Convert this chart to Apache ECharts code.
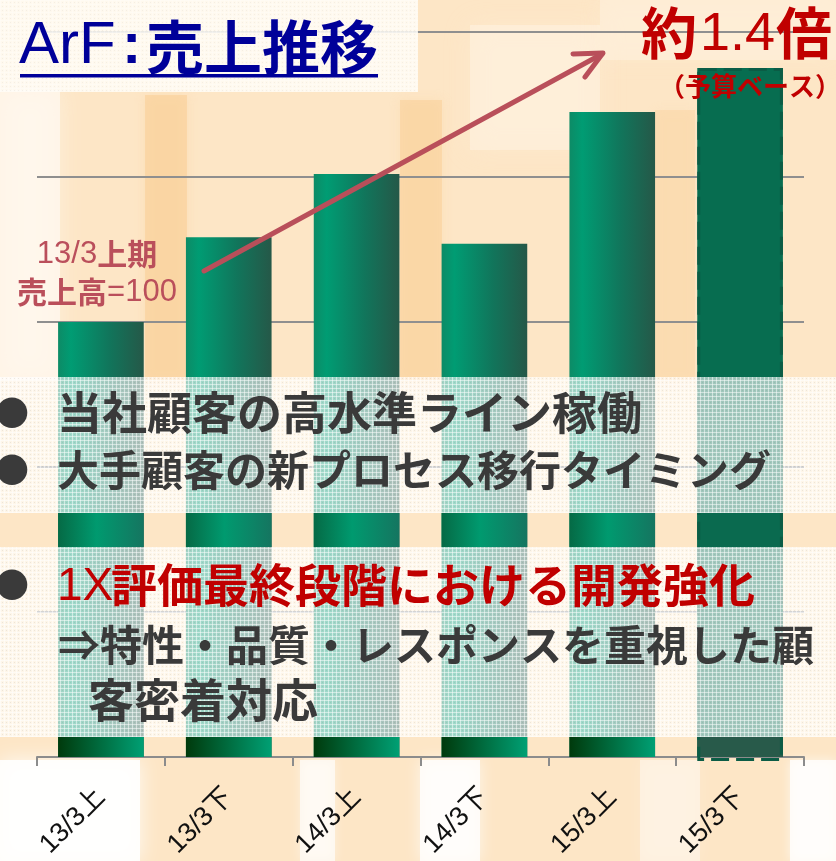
<!DOCTYPE html>
<html><head><meta charset="utf-8">
<script src="https://cdn.jsdelivr.net/npm/echarts@6/dist/echarts.min.js"></script>
<style>html,body{margin:0;padding:0;background:#fff}#c{width:836px;height:861px}</style>
</head><body><div id="c"></div>
<script>
// ---- data ----
const categories = ['13/3上', '13/3下', '14/3上', '14/3下', '15/3上', '15/3下'];
const salesIndex = [100, 119.5, 134, 118, 148.3, 158.4];   // 13/3上期 = 100
const basis = ['実績', '実績', '実績', '実績', '実績', '予算'];
const titleLatin = 'ArF';
const titleJa = '売上推移';
const growthText = ['約', '1.4', '倍'];
const growthNote = '（予算ベース）';
const baseNote = ['13/3', '上期', '売上高', '=100'];
const bullets = [
  '当社顧客の高水準ライン稼働',
  '大手顧客の新プロセス移行タイミング'
];
const bullet3 = ['1X', '評価最終段階における開発強化'];
const bullet3sub = ['⇒特性・品質・レスポンスを重視した顧', '客密着対応'];

// ---- layout / style ----
const CJK = '"Noto Sans CJK JP", sans-serif';
const LAT = '"Liberation Sans", Arial, sans-serif';
const OV1 = [377, 513];  // translucent text panels (y ranges)
const OV2 = [547, 737];

function makePattern() {
  const c = document.createElement('canvas');
  c.width = 4; c.height = 4;
  const g = c.getContext('2d');
  g.fillStyle = 'rgba(255,255,255,0.5)';
  g.fillRect(0, 0, 4, 1);
  g.fillRect(0, 0, 1, 4);
  g.fillStyle = 'rgba(110,110,110,0.12)';
  g.fillRect(2, 2, 1, 1);
  return c;
}
const pattern = makePattern();

const gradTop = () => new echarts.graphic.LinearGradient(0, 0, 1, 0, [
  {offset: 0, color: '#0d8b66'}, {offset: 0.15, color: '#009c73'},
  {offset: 0.6, color: '#11755b'}, {offset: 1, color: '#255848'}]);
const gradMid = () => new echarts.graphic.LinearGradient(0, 0, 1, 0, [
  {offset: 0, color: '#056a45'}, {offset: 0.45, color: '#009a6f'},
  {offset: 1, color: '#157560'}]);
const gradBot = () => new echarts.graphic.LinearGradient(0, 0, 1, 0, [
  {offset: 0, color: '#003a0c'}, {offset: 1, color: '#00a074'}]);

function renderBar(params, api) {
  const i = api.value(0);
  const v = api.value(1);
  const top = api.coord([i, v]);
  const base = api.coord([i, 0]);
  const w = api.size([1, 0])[0] * 0.67;
  const x = top[0] - w / 2;
  const y0 = top[1], y1 = base[1];
  const budget = basis[i] === '予算';
  const kids = [{
    type: 'rect', shape: {x: x, y: y0, width: w, height: y1 - y0},
    style: {fill: budget ? '#076d50' : gradTop()}
  }];
  const segs = [[OV1[1], OV2[0], budget ? '#0a6a4f' : gradMid()],
                [OV2[1], y1, budget ? '#285a4a' : gradBot()]];
  segs.forEach(s => {
    const a = Math.max(s[0], y0), b = s[1];
    if (b > a) kids.push({type: 'rect', shape: {x: x, y: a, width: w, height: b - a}, style: {fill: s[2]}});
  });
  if (budget) {
    kids.push({type: 'rect', shape: {x: x + 1.5, y: y0 + 1.5, width: w - 3, height: y1 - y0 + 1},
      style: {fill: null, stroke: '#0b5c45', lineWidth: 3, lineDash: [18, 7]}});
  }
  return {type: 'group', children: kids};
}

const soft = (x, y, w, h, c, blur) => ({type: 'rect', shape: {x: x, y: y, width: w, height: h},
  style: {fill: c, shadowBlur: blur || 0, shadowColor: c}});
const bg = [
  soft(0, 0, 836, 861, '#fde6c6'),
  soft(0, 90, 60, 290, 'rgba(255,250,242,0.7)', 25),
  soft(470, 25, 130, 125, 'rgba(255,246,232,0.45)', 25),
  soft(600, 0, 236, 60, 'rgba(255,244,228,0.45)', 20),
  soft(145, 95, 42, 285, 'rgba(249,206,148,0.55)', 10),
  soft(400, 100, 42, 280, 'rgba(249,206,148,0.5)', 10),
  soft(655, 110, 40, 270, 'rgba(249,206,148,0.35)', 10),
  soft(0, 760, 140, 101, 'rgba(255,255,255,0.9)', 20),
  soft(300, 760, 35, 101, 'rgba(255,255,255,0.65)', 10),
  soft(420, 760, 60, 101, 'rgba(255,255,255,0.8)', 15),
  soft(640, 760, 60, 101, 'rgba(255,255,255,0.4)', 15),
  soft(790, 760, 46, 101, 'rgba(255,255,255,0.8)', 10)
].map(e => Object.assign(e, {z: -100, silent: true}));

function panel(y0, y1) {
  return [
    {type: 'rect', z: 10, shape: {x: 0, y: y0, width: 836, height: y1 - y0}, style: {fill: 'rgba(255,255,255,0.62)'}},
    {type: 'rect', z: 10, shape: {x: 0, y: y0, width: 836, height: y1 - y0}, style: {fill: {image: pattern, repeat: 'repeat'}}}
  ];
}

const bodyColor = '#3a3a3a';
const txt = (x, y, text, o) => ({type: 'text', z: 12, x: x, y: y,
  style: Object.assign({text: text, textAlign: 'left', textVerticalAlign: 'middle'}, o)});
const noteRich = {
  n: {fontFamily: LAT, fontSize: 31, fill: '#ba4f5b', verticalAlign: 'middle'},
  k: {fontFamily: CJK, fontSize: 30, fontWeight: 'bold', fill: '#ba4f5b', verticalAlign: 'middle'}
};

const graphics = [].concat(bg,
  // title panel
  [{type: 'rect', z: 10, shape: {x: 0, y: 0, width: 418, height: 92}, style: {fill: 'rgba(255,252,246,0.82)'}},
   {type: 'rect', z: 10, shape: {x: 0, y: 0, width: 418, height: 92}, style: {fill: {image: pattern, repeat: 'repeat'}, opacity: 0.6}},
   txt(19, 46, titleLatin, {fontFamily: LAT, fontSize: 60, fill: '#000099'}),
   txt(122, 47, ':', {fontFamily: LAT, fontSize: 58, fontWeight: 'bold', fill: '#000099'}),
   txt(146, 47, titleJa, {fontFamily: CJK, fontSize: 58, fontWeight: 'bold', fill: '#000099'}),
   {type: 'rect', z: 12, shape: {x: 20, y: 74, width: 358, height: 3.5}, style: {fill: '#000099'}}],
  // growth annotation
  [txt(641, 33, growthText[0], {fontFamily: CJK, fontSize: 56, fontWeight: 'bold', fill: '#c00000'}),
   txt(700, 35, growthText[1], {fontFamily: LAT, fontSize: 54, fill: '#c00000'}),
   txt(776, 33, growthText[2], {fontFamily: CJK, fontSize: 56, fontWeight: 'bold', fill: '#c00000'}),
   txt(750, 86, growthNote, {fontFamily: CJK, fontSize: 26, fontWeight: 'bold', fill: '#c00000', textAlign: 'center'})],
  // arrow
  [{type: 'polyline', z: 5, shape: {points: [[204, 271], [602, 54]]}, style: {stroke: '#b94f5a', lineWidth: 5, lineCap: 'round', fill: null}},
   {type: 'polyline', z: 5, shape: {points: [[573, 54], [603, 53], [585, 77]]}, style: {stroke: '#b94f5a', lineWidth: 5, lineCap: 'round', lineJoin: 'round', fill: null}}],
  // base note
  [{type: 'text', z: 12, x: 97, y: 254, style: {text: '{n|' + baseNote[0] + '}{k|' + baseNote[1] + '}', textAlign: 'center', textVerticalAlign: 'middle', rich: noteRich}},
   {type: 'text', z: 12, x: 97, y: 292, style: {text: '{k|' + baseNote[2] + '}{n|' + baseNote[3] + '}', textAlign: 'center', textVerticalAlign: 'middle', rich: noteRich}}],
  panel(OV1[0], OV1[1]), panel(OV2[0], OV2[1]),
  // bullets
  [txt(12, 413, '●', {fontFamily: CJK, fontSize: 34, fill: bodyColor, textAlign: 'center'}),
   txt(57, 413, bullets[0], {fontFamily: CJK, fontSize: 45, fontWeight: 'bold', fill: bodyColor}),
   txt(12, 470, '●', {fontFamily: CJK, fontSize: 34, fill: bodyColor, textAlign: 'center'}),
   txt(57, 470, bullets[1], {fontFamily: CJK, fontSize: 42, fontWeight: 'bold', fill: bodyColor}),
   txt(12, 585, '●', {fontFamily: CJK, fontSize: 34, fill: bodyColor, textAlign: 'center'}),
   txt(57, 587, bullet3[0], {fontFamily: LAT, fontSize: 46, fill: '#c00000'}),
   txt(111, 585, bullet3[1], {fontFamily: CJK, fontSize: 46, fontWeight: 'bold', fill: '#c00000'}),
   txt(58, 645, bullet3sub[0], {fontFamily: CJK, fontSize: 42, fontWeight: 'bold', fill: bodyColor}),
   txt(88, 700, bullet3sub[1], {fontFamily: CJK, fontSize: 46, fontWeight: 'bold', fill: bodyColor})]
);

const chart = echarts.init(document.getElementById('c'), null, {renderer: 'canvas'});
chart.setOption({
  backgroundColor: '#fde6c6',
  animation: false,
  grid: {left: 37, right: 32, top: 32, bottom: 104, containLabel: false},
  xAxis: {
    type: 'category', data: categories, boundaryGap: true,
    axisLine: {lineStyle: {color: '#8c8c8c', width: 2}},
    axisTick: {show: true, length: 9, lineStyle: {color: '#8c8c8c', width: 2}},
    axisLabel: {rotate: 45, fontSize: 27, color: '#111', fontFamily: '"Liberation Sans", "Noto Sans CJK JP", sans-serif', margin: 36}
  },
  yAxis: {
    type: 'value', min: 0, max: 500 / 3, interval: 100 / 3,
    axisLabel: {show: false}, axisLine: {show: false}, axisTick: {show: false},
    splitLine: {show: true, lineStyle: {color: '#8f8f8f', width: 2}}
  },
  series: [{
    type: 'custom', name: '売上', renderItem: renderBar,
    encode: {x: 0, y: 1},
    data: categories.map((c, i) => [i, salesIndex[i]])
  }],
  graphic: {elements: graphics}
});
</script></body></html>
